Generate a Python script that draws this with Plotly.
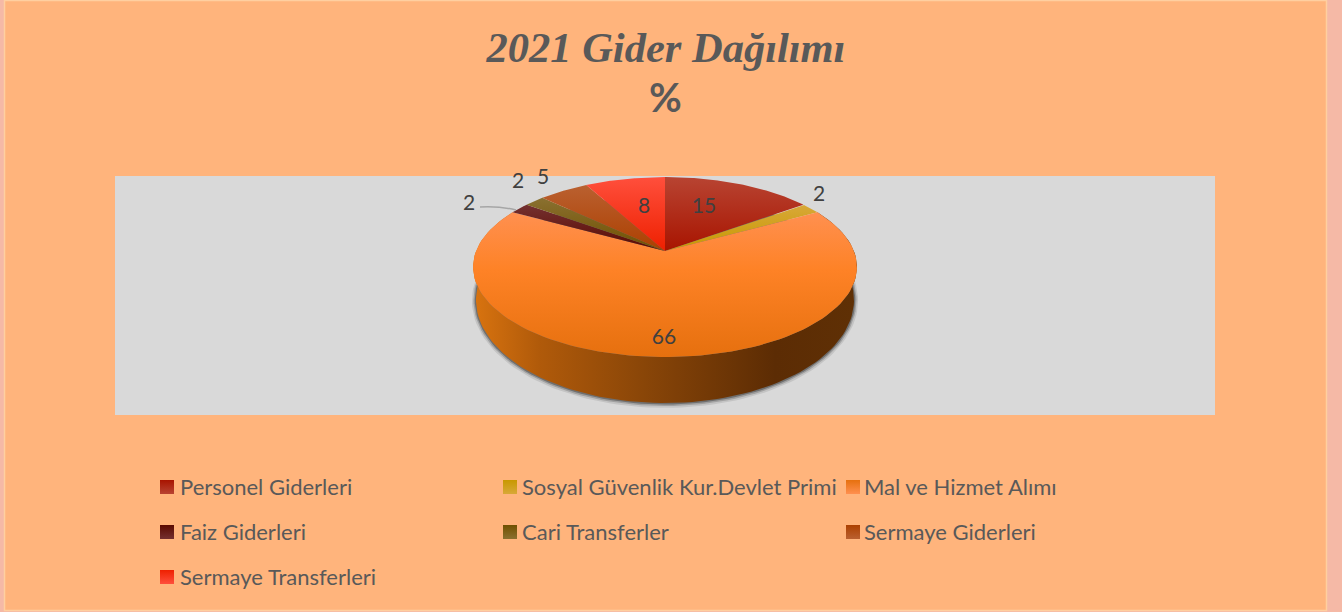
import numpy as np
import plotly.graph_objects as go

# ---- data -------------------------------------------------------------
categories = ["Personel Giderleri", "Sosyal Güvenlik Kur.Devlet Primi", "Mal ve Hizmet Alımı",
              "Faiz Giderleri", "Cari Transferler", "Sermaye Giderleri", "Sermaye Transferleri"]
values = [15, 2, 66, 2, 2, 5, 8]
title_text = "2021 Gider Dağılımı"
subtitle_text = "%"

# ---- style -------------------------------------------------------------
top_colors = ["#B84432", "#D8A838", "#FF9050", "#743030", "#8A7030", "#BA6030", "#FF4F3C"]
bottom_colors = ["#A81400", "#C89800", "#E6700E", "#5A0A00", "#705000", "#AC4000", "#EE2000"]
legend_rows = [[0, 1, 2], [3, 4, 5], [6]]
legend_row_y = [486.5, 531.5, 576.5]
legend_key_x = [167, 510, 853]
label_xy = [(704, 208), (819, 196), (664, 339), (469, 205), (518, 183), (543, 179), (644, 208)]

W, H = 1342, 612
CX, CY_TOP, X_R, Y_R, K = 665, 251, 188.9, 87.1, 0.178      # projected pie top
CY_LOW, X_LOW, Y_LOW = 281.6, 186, 99.8                     # projected pie bottom rim


def rim(theta, cy, xr, yr, grow=0.0):
    w = 1 + K * np.cos(theta)
    return CX + (xr + grow) * np.sin(theta) / w, cy - (yr + grow) * np.cos(theta) / w


fig = go.Figure()

# shadow under the pie, then the side wall
t = np.radians(np.linspace(0, 360, 181))
for grow, alpha in ((4.0, 0.12), (2.5, 0.25), (1.2, 0.45)):
    sx, sy = rim(t, CY_LOW, X_LOW, Y_LOW, grow)
    fig.add_trace(go.Scatter(x=sx, y=sy, mode="lines", fill="toself", line=dict(width=0),
                             fillcolor=f"rgba(50,50,50,{alpha})", hoverinfo="skip", showlegend=False))

shares = np.array(values, dtype=float) / sum(values) * 2 * np.pi
edges = np.concatenate([[0], np.cumsum(shares)])

t = np.linspace(edges[2], edges[3], 120)
ux, uy = rim(t, CY_TOP, X_R, Y_R)
lx, ly = rim(t, CY_LOW, X_LOW, Y_LOW)
fig.add_trace(go.Scatter(
    x=np.concatenate([ux, lx[::-1]]), y=np.concatenate([uy, ly[::-1]]),
    mode="lines", fill="toself", line=dict(width=0), hoverinfo="skip", showlegend=False,
    fillgradient=dict(type="horizontal", start=475, stop=855, colorscale=[
        [0, "#D8730F"], [0.17, "#B05A0A"], [0.44, "#8A4608"], [0.79, "#5C2C04"], [1, "#5F3005"]])))

# top face wedges
for i, name in enumerate(categories):
    t = np.linspace(edges[i], edges[i + 1], 120)
    rx, ry = rim(t, CY_TOP, X_R, Y_R)
    x = np.concatenate([[CX], rx, [CX]])
    y = np.concatenate([[CY_TOP], ry, [CY_TOP]])
    stops = [[0, top_colors[i]], [1, bottom_colors[i]]]
    if i == 2:
        stops = [[0, top_colors[i]], [0.4, "#FE8226"], [1, bottom_colors[i]]]
    fig.add_trace(go.Scatter(x=x, y=y, mode="lines", fill="toself", line=dict(width=0),
                             fillgradient=dict(type="vertical", start=float(y.min()), stop=float(y.max()),
                                               colorscale=stops),
                             name=name, hovertemplate=f"{name}: {values[i]}<extra></extra>",
                             showlegend=False))

# data labels
fig.add_trace(go.Scatter(x=[p[0] for p in label_xy], y=[p[1] for p in label_xy],
                         mode="text", text=[str(v) for v in values], textposition="middle center",
                         textfont=dict(family="Lato", size=21, color="#404040"),
                         hoverinfo="skip", showlegend=False))

# legend: text comes from the library's legend (one per row); the square keys sit closer to the
# text than the legend allows, so they are drawn as markers beside it
layout_legends = {}
for r, row in enumerate(legend_rows):
    key = "legend" if r == 0 else f"legend{r + 1}"
    for c, i in enumerate(row):
        fig.add_trace(go.Scatter(x=[None], y=[None], mode="markers", name=categories[i], legend=key,
                                 marker=dict(symbol="square", size=14, color="rgba(0,0,0,0)",
                                             line=dict(width=0))))
        fig.add_trace(go.Scatter(x=[legend_key_x[c]], y=[legend_row_y[r] + 0.5], mode="markers",
                                 showlegend=False, hoverinfo="skip",
                                 marker=dict(symbol="square", size=14, color=bottom_colors[i],
                                             line=dict(width=0),
                                             gradient=dict(type="vertical", color=top_colors[i]))))
    layout_legends[key] = dict(
        orientation="h", x=140 / W, xanchor="left", y=1 - legend_row_y[r] / H, yanchor="middle",
        entrywidth=297, entrywidthmode="pixels", bgcolor="rgba(0,0,0,0)", borderwidth=0,
        font=dict(family="Lato", size=22, color="#595959"), traceorder="normal")

fig.update_layout(
    width=W, height=H, margin=dict(l=0, r=0, t=0, b=0), autosize=False,
    paper_bgcolor="#F5B9A6", plot_bgcolor="rgba(0,0,0,0)",
    xaxis=dict(range=[0, W], visible=False, fixedrange=True),
    yaxis=dict(range=[H, 0], visible=False, fixedrange=True),
    title=dict(text=f"<b><i>{title_text}</i></b>", x=666 / W, xanchor="center", y=1 - 47 / H, yanchor="middle",
               font=dict(family="Liberation Serif", size=42.5, color="#595959")),
    annotations=[dict(text=f"<b>{subtitle_text}</b>", x=665, y=97, xref="x", yref="y", showarrow=False,
                      font=dict(family="Lato", size=40, color="#595959"))],
    shapes=[
        dict(type="rect", xref="x", yref="y", x0=4.5, x1=1326.5, y0=0.5, y1=610.5, layer="below",
             fillcolor="#FFB47C", line=dict(color="#FFCFA0", width=1.5)),
        dict(type="rect", xref="x", yref="y", x0=115, x1=1215, y0=176, y1=415, layer="below",
             fillcolor="#D9D9D9", line=dict(width=0)),
        dict(type="path", xref="x", yref="y", path="M 480 207 Q 500 206 516 210", layer="above",
             line=dict(color="#A6A6A6", width=1.5)),
    ],
    **layout_legends,
)

fig.write_html("out.html", config={"displayModeBar": False},
               post_script="document.body.style.margin='0';document.body.style.overflow='hidden';")
